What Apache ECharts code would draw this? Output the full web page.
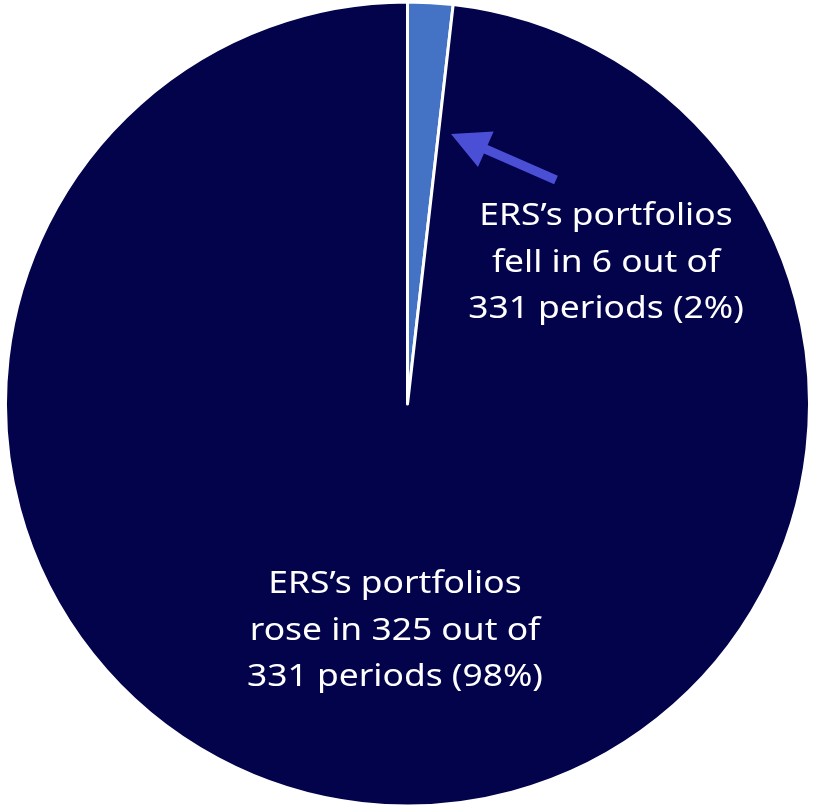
<!DOCTYPE html>
<html>
<head>
  <meta charset="UTF-8" />
  <title>ERS portfolios</title>
  <script src="https://cdn.jsdelivr.net/npm/echarts@6/dist/echarts.min.js"></script>
  <style>
    html, body { margin: 0; padding: 0; background: #fff; }
    #chart { width: 813px; height: 807px; }
  </style>
</head>
<body>
  <div id="chart"></div>
  <script>
    // data
    const sliceNames = ['Fell', 'Rose'];
    const sliceValues = [6, 325];
    const sliceColors = ['#4472c4', '#02034a'];
    const fellText = ['ERS\u2019s portfolios', 'fell in 6 out of', '331 periods (2%)'];
    const roseText = ['ERS\u2019s portfolios', 'rose in 325 out of', '331 periods (98%)'];

    const chart = echarts.init(document.getElementById('chart'));

    // arrow polygon (annotation)
    function arrowPoints(tip, tail, headLen, headHalf, shaftHalf) {
      const dx = tail[0] - tip[0], dy = tail[1] - tip[1];
      const len = Math.sqrt(dx * dx + dy * dy);
      const ux = dx / len, uy = dy / len;
      const px = -uy, py = ux;
      const bx = tip[0] + ux * headLen, by = tip[1] + uy * headLen;
      return [
        tip,
        [bx + px * headHalf, by + py * headHalf],
        [bx + px * shaftHalf, by + py * shaftHalf],
        [tail[0] + px * shaftHalf, tail[1] + py * shaftHalf],
        [tail[0] - px * shaftHalf, tail[1] - py * shaftHalf],
        [bx - px * shaftHalf, by - py * shaftHalf],
        [bx - px * headHalf, by - py * headHalf]
      ];
    }

    const textStyle = {
      fill: '#ffffff',
      fontSize: 30,
      fontFamily: 'Noto Sans',
      lineHeight: 46.5,
      align: 'center',
      verticalAlign: 'middle'
    };

    chart.setOption({
      animation: false,
      backgroundColor: '#ffffff',
      series: [{
        type: 'pie',
        center: [407.5, 404],
        radius: [0, 402],
        startAngle: 90,
        clockwise: true,
        label: { show: false },
        labelLine: { show: false },
        itemStyle: { borderColor: '#ffffff', borderWidth: 3 },
        emphasis: { disabled: true },
        data: sliceNames.map((n, i) => ({
          name: n, value: sliceValues[i], itemStyle: { color: sliceColors[i] }
        }))
      }],
      graphic: {
        elements: [
          {
            type: 'polygon', z: 100,
            shape: { points: arrowPoints([451, 134], [556, 180], 38, 19.5, 4.6) },
            style: { fill: '#4a4fd6' }
          },
          {
            type: 'text', z: 100, x: 606, y: 263, scaleX: 1.18,
            style: Object.assign({ text: fellText.join('\n') }, textStyle)
          },
          {
            type: 'text', z: 100, x: 395, y: 631, scaleX: 1.18,
            style: Object.assign({ text: roseText.join('\n') }, textStyle)
          }
        ]
      }
    });
  </script>
</body>
</html>
